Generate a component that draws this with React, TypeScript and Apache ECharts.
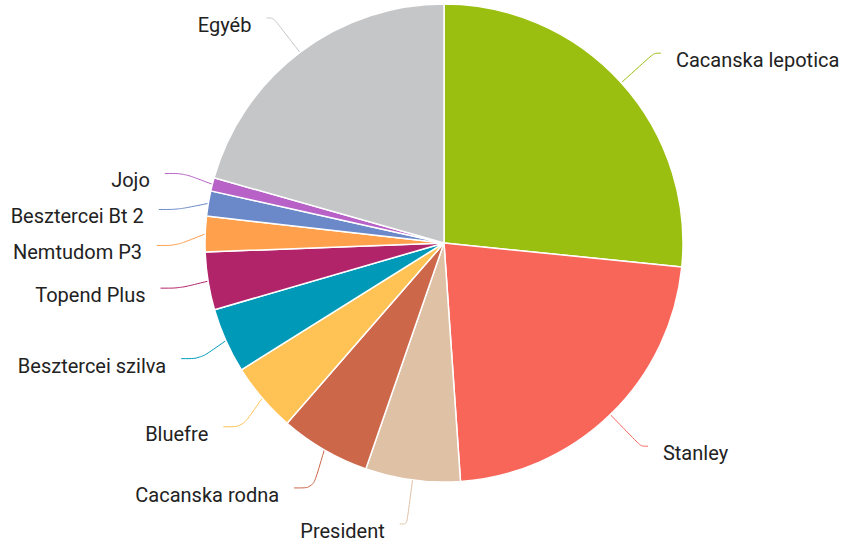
import React, { useEffect, useRef } from "react";
import * as echarts from "echarts";

const categories = [
  "Cacanska lepotica",
  "Stanley",
  "President",
  "Cacanska rodna",
  "Bluefre",
  "Besztercei szilva",
  "Topend Plus",
  "Nemtudom P3",
  "Besztercei Bt 2",
  "Jojo",
  "Egyéb",
];
const values = [26.6, 22.3, 6.4, 6.1, 4.7, 4.4, 3.9, 2.4, 1.7, 0.9, 20.6];
const colors = [
  "#9bbf10",
  "#f8665a",
  "#dfc1a6",
  "#cc674a",
  "#ffc355",
  "#009ab8",
  "#b2246a",
  "#ffa04c",
  "#6b89c9",
  "#b862c8",
  "#c5c6c8",
];
const leftShifted = [
  "Cacanska rodna",
  "Bluefre",
  "Besztercei szilva",
  "Topend Plus",
  "Nemtudom P3",
  "Besztercei Bt 2",
  "Jojo",
];

export default function App() {
  const ref = useRef<HTMLDivElement>(null);
  useEffect(() => {
    const chart = echarts.init(ref.current!, null, { renderer: "svg" });
    chart.setOption({
      animation: false,
      backgroundColor: "#ffffff",
      series: [
        {
          type: "pie",
          center: [444, 243],
          radius: 239,
          startAngle: 90,
          clockwise: true,
          avoidLabelOverlap: true,
          data: categories.map((name, i) => ({
            name,
            value: values[i],
            itemStyle: { color: colors[i] },
            ...(leftShifted.includes(name)
              ? { labelLine: { length2: 19 } }
              : {}),
          })),
          itemStyle: { borderColor: "#ffffff", borderWidth: 1.5 },
          label: {
            show: true,
            position: "outside",
            formatter: "{t|{b}}",
            fontFamily: "Roboto",
            fontSize: 20,
            color: "#222222",
            distanceToLabelLine: 15,
            bleedMargin: 0,
            overflow: "none",
            rich: {
              t: {
                fontFamily: "Roboto",
                fontSize: 20,
                color: "#222222",
                lineHeight: 27,
                padding: [14, 0, 0, 0],
              },
            },
          },
          labelLine: {
            show: true,
            length: 44,
            length2: 7,
            smooth: true,
            lineStyle: { width: 1 },
          },
          emphasis: { disabled: true },
        },
      ],
    });
    return () => chart.dispose();
  }, []);
  return (
    <div
      ref={ref}
      style={{ position: "absolute", left: 0, top: 0, width: 844, height: 549 }}
    />
  );
}
